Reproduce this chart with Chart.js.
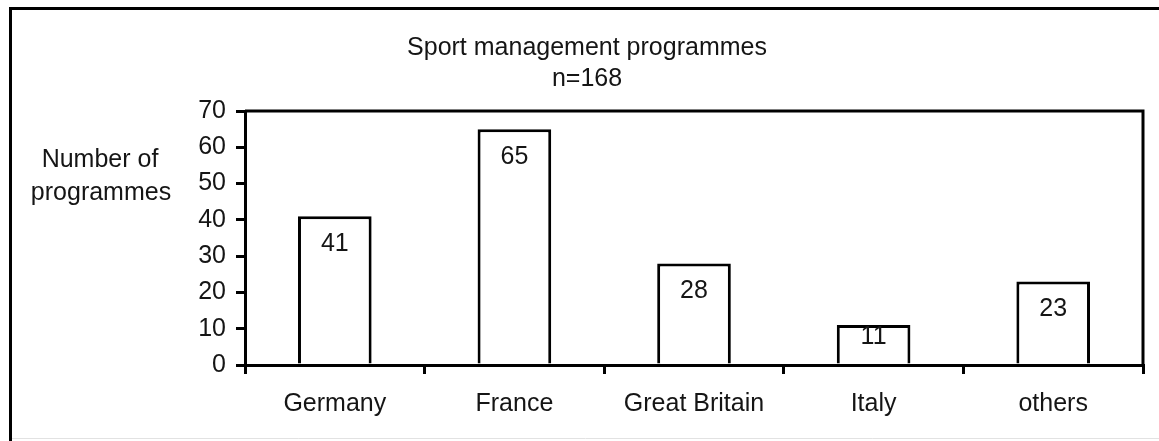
<!DOCTYPE html>
<html>
<head>
<meta charset="utf-8">
<script src="https://cdn.jsdelivr.net/npm/chart.js@4.4.1/dist/chart.umd.min.js"></script>
<style>
html,body{margin:0;padding:0;background:#fff;}
#wrap{position:relative;width:1159px;height:441px;}
</style>
</head>
<body>
<div id="wrap"><canvas id="c" width="1159" height="441"></canvas></div>
<script>
const categories = ["Germany", "France", "Great Britain", "Italy", "others"];
const programmes = [41, 65, 28, 11, 23];
const titleLines = ["Sport management programmes", "n=168"];
const yTitleLines = ["Number of", "programmes"];
const yMin = 0, yMax = 70, yStep = 10;

const FONT = "'Liberation Sans', Arial, Helvetica, sans-serif";
const FS = 25;
const TXT = '#151515';

const decor = {
  id: 'decor',
  beforeDraw(chart) {
    const ctx = chart.ctx;
    ctx.save();
    ctx.fillStyle = '#fff';
    ctx.fillRect(0, 0, chart.width, chart.height);
    ctx.strokeStyle = '#000';
    ctx.lineWidth = 3;
    ctx.beginPath();
    ctx.moveTo(10.5, 441);
    ctx.lineTo(10.5, 8.5);
    ctx.lineTo(1159, 8.5);
    ctx.stroke();
    ctx.strokeStyle = '#e2e2e2';
    ctx.lineWidth = 1;
    ctx.beginPath();
    ctx.moveTo(12, 438.5);
    ctx.lineTo(1159, 438.5);
    ctx.stroke();
    ctx.fillStyle = TXT;
    ctx.font = FS + 'px ' + FONT;
    ctx.textAlign = 'center';
    ctx.textBaseline = 'middle';
    ctx.fillText(titleLines[0], 587, 48);
    ctx.fillText(titleLines[1], 587, 79);
    ctx.fillText(yTitleLines[0], 100, 160);
    ctx.fillText(yTitleLines[1], 101, 193);
    ctx.restore();
  },
  afterDraw(chart) {
    const ctx = chart.ctx;
    const a = chart.chartArea;
    ctx.save();
    ctx.strokeStyle = '#000';
    ctx.lineWidth = 3;
    ctx.beginPath();
    ctx.moveTo(a.left, a.top);
    ctx.lineTo(a.right, a.top);
    ctx.lineTo(a.right, a.bottom);
    ctx.stroke();
    const meta = chart.getDatasetMeta(0);
    ctx.fillStyle = TXT;
    ctx.font = FS + 'px ' + FONT;
    ctx.textAlign = 'center';
    ctx.textBaseline = 'middle';
    meta.data.forEach((bar, i) => {
      const y = Math.min(bar.y + 28, bar.base - 26);
      ctx.fillText(String(programmes[i]), bar.x, y);
    });
    ctx.restore();
  }
};

new Chart(document.getElementById('c'), {
  type: 'bar',
  data: {
    labels: categories,
    datasets: [{
      data: programmes,
      backgroundColor: '#fff',
      borderColor: '#000',
      borderWidth: 3,
      borderSkipped: 'start',
      categoryPercentage: 1,
      barPercentage: 0.41
    }]
  },
  options: {
    responsive: false,
    animation: false,
    devicePixelRatio: 1,
    layout: { padding: { left: 0, right: 16, top: 111, bottom: 0 } },
    plugins: {
      legend: { display: false },
      title: { display: false },
      tooltip: { enabled: false }
    },
    scales: {
      x: {
        afterFit(s) { s.height = 441 - 365; },
        grid: { offset: true, drawOnChartArea: false, drawTicks: true, tickLength: 9, color: '#000', lineWidth: 3 },
        border: { display: true, color: '#000', width: 3 },
        ticks: { color: TXT, font: { family: FONT, size: FS }, padding: 15 }
      },
      y: {
        min: yMin, max: yMax,
        afterFit(s) { s.width = 245; },
        grid: { drawOnChartArea: false, drawTicks: true, tickLength: 9, color: '#000', lineWidth: 3 },
        border: { display: true, color: '#000', width: 3 },
        ticks: { stepSize: yStep, color: TXT, font: { family: FONT, size: FS }, padding: 10 }
      }
    }
  },
  plugins: [decor]
});
</script>
</body>
</html>
